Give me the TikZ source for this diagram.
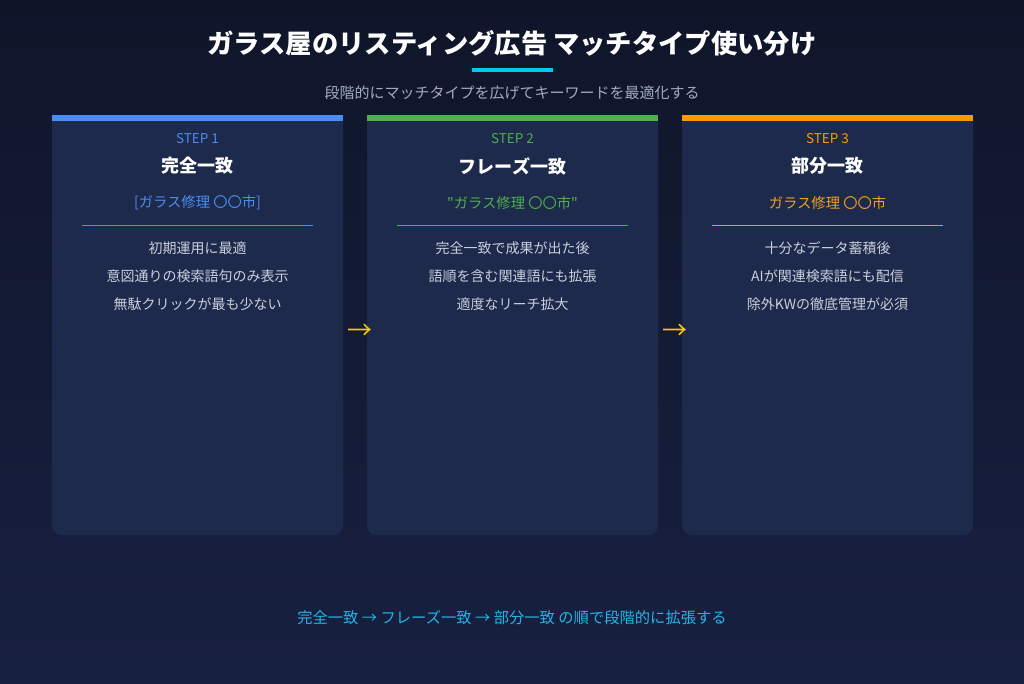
\documentclass[tikz,border=0pt]{standalone}
\usepackage{fontspec}
\setmainfont{Noto Sans CJK JP}
\newfontfamily\qfont{Noto Sans CJK JP}
\definecolor{bgtop}{HTML}{0F1529}
\definecolor{bgbot}{HTML}{182041}
\definecolor{cardfill}{HTML}{1E2A4B}
\definecolor{cblue}{HTML}{4A8CF2}
\definecolor{cgreen}{HTML}{4CAF50}
\definecolor{corange}{HTML}{FF9800}
\definecolor{korange}{HTML}{F0A024}
\definecolor{cyanline}{HTML}{00C8F0}
\definecolor{subgray}{HTML}{A3ABC0}
\definecolor{bullet}{HTML}{C8CFDD}
\definecolor{arrowy}{HTML}{F5C518}
\definecolor{bottomtxt}{HTML}{22B4E6}
\tikzset{
  cardbox/.style={fill=cardfill, rounded corners=10pt, minimum width=291pt, minimum height=420pt, inner sep=0pt, anchor=north},
  topbar/.style={inner sep=0pt, minimum width=291pt, minimum height=6pt, anchor=north},
  sepline/.style={inner sep=0pt, minimum width=231pt, minimum height=1.3pt},
  steptxt/.style={font=\fontsize{13.5}{15}\selectfont, inner sep=0pt},
  cardtitle/.style={font=\bfseries\fontsize{18}{20}\selectfont, text=white, inner sep=0pt},
  kwtxt/.style={font=\fontsize{14.3}{16}\selectfont, inner sep=0pt},
  bullettxt/.style={font=\fontsize{14}{16}\selectfont, text=bullet, inner sep=0pt},
  flowarrow/.style={font=\fontsize{25}{27}\selectfont, text=arrowy, inner sep=0pt},
}
\begin{document}
\begin{tikzpicture}[x=1pt,y=-1pt]
\shade[top color=bgtop, bottom color=bgbot] (0,0) rectangle (1024,683);
\useasboundingbox (0,0) rectangle (1024,683);

\node[font=\bfseries\fontsize{26.3}{30}\selectfont, text=white, inner sep=0pt] (title) at (512,43) {ガラス屋のリスティング広告 マッチタイプ使い分け};
\fill[cyanline] (472,68) rectangle (553,72);
\node[font=\fontsize{15}{17}\selectfont, text=subgray, inner sep=0pt] (subtitle) at (512,93) {段階的にマッチタイプを広げてキーワードを最適化する};

% cards
\foreach \i/\cx/\col/\kcol/\step/\ttl/\kw/\ba/\bb/\bc in {
 1/197.5/cblue/cblue/STEP 1/完全一致/{[ガラス修理 〇〇市]}/初期運用に最適/意図通りの検索語句のみ表示/無駄クリックが最も少ない,
 2/512.5/cgreen/cgreen/STEP 2/フレーズ一致/{{\qfont"}ガラス修理 〇〇市{\qfont"}}/完全一致で成果が出た後/語順を含む関連語にも拡張/適度なリーチ拡大,
 3/827.5/corange/korange/STEP 3/部分一致/ガラス修理 〇〇市/十分なデータ蓄積後/AIが関連検索語にも配信/除外KWの徹底管理が必須}{
  \node[cardbox] (card\i) at (\cx,115) {};
  \fill[cardfill] (\cx-145.5,115) rectangle (\cx+145.5,140);
  \node[topbar, fill=\col] (bar\i) at (\cx,115) {};
  \node[steptxt, text=\col] (step\i) at (\cx,139) {\step};
  \node[cardtitle] (ttl\i) at (\cx,166) {\ttl};
  \node[kwtxt, text=\kcol] (kw\i) at (\cx,203) {\kw};
  \node[sepline, fill=\col] (sep\i) at (\cx,225.5) {};
  \node[bullettxt] (ba\i) at (\cx,248) {\ba};
  \node[bullettxt] (bb\i) at (\cx,276) {\bb};
  \node[bullettxt] (bc\i) at (\cx,304) {\bc};
}

\node[flowarrow] (arr1) at (359.5,332) {→};
\node[flowarrow] (arr2) at (674.5,332) {→};

\node[font=\fontsize{15.3}{17}\selectfont, text=bottomtxt, inner sep=0pt] (bottom) at (512,618) {完全一致 → フレーズ一致 → 部分一致 の順で段階的に拡張する};
\end{tikzpicture}
\end{document}
